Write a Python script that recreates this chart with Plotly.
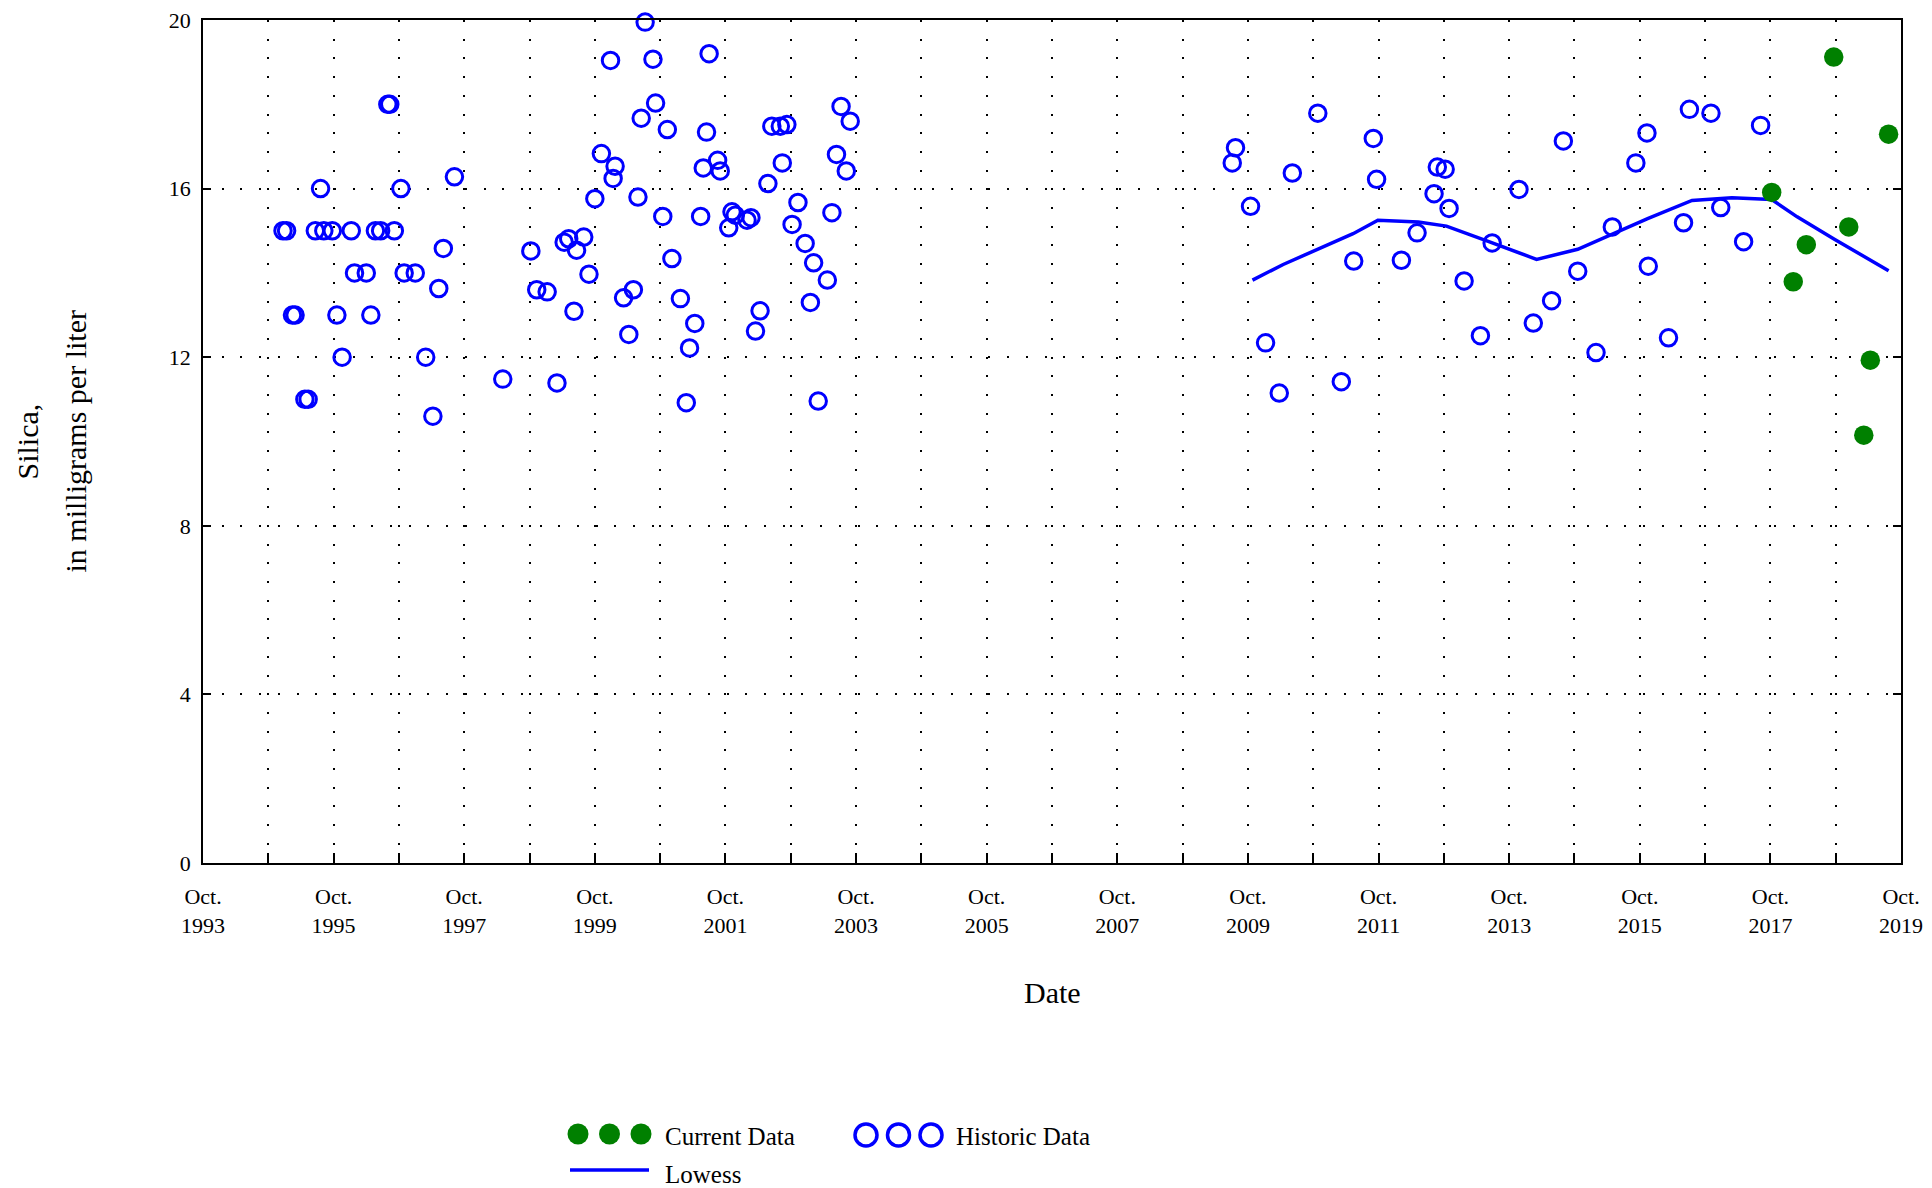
import plotly.graph_objects as go

# ---------------- data (decimal years, mg/L) ----------------
hist_dates = [
    1994.975, 1995.03, 1995.12, 1995.16, 1995.31, 1995.36, 1995.47, 1995.55, 1995.60, 1995.73,
    1995.80, 1995.88, 1996.02, 1996.07, 1996.25, 1996.32, 1996.39, 1996.47, 1996.58, 1996.61,
    1996.68, 1996.78, 1996.83, 1997.00, 1997.16, 1997.27, 1997.36, 1997.43, 1997.60,
    1998.34, 1998.77, 1998.86, 1999.02, 1999.17, 1999.28, 1999.35, 1999.43, 1999.47, 1999.58,
    1999.66, 1999.75, 1999.85, 1999.99, 2000.03, 2000.06, 2000.19, 2000.27, 2000.34, 2000.41,
    2000.46, 2000.52, 2000.64, 2000.68, 2000.79, 2000.86, 2000.93, 2001.06, 2001.15, 2001.20,
    2001.28, 2001.37, 2001.41, 2001.46, 2001.50, 2001.63, 2001.67, 2001.80, 2001.85, 2001.90,
    2002.08, 2002.14, 2002.21, 2002.28, 2002.40, 2002.46, 2002.59, 2002.62, 2002.69, 2002.77,
    2002.86, 2002.97, 2003.05, 2003.10, 2003.17, 2003.31, 2003.38, 2003.45, 2003.52, 2003.60,
    2003.66,
    2009.51, 2009.56, 2009.79, 2010.02, 2010.23, 2010.43, 2010.82, 2011.18, 2011.37, 2011.67,
    2011.72, 2012.10, 2012.34, 2012.60, 2012.65, 2012.77, 2012.83, 2013.06, 2013.31, 2013.49,
    2013.90, 2014.12, 2014.40, 2014.58, 2014.80, 2015.08, 2015.33, 2015.69, 2015.86, 2015.88,
    2016.19, 2016.42, 2016.51, 2016.84, 2016.99, 2017.34, 2017.60,
]
hist_values = [
    15.0, 15.0, 13.0, 13.0, 11.0, 11.0, 15.0, 16.0, 15.0, 15.0,
    13.0, 12.0, 15.0, 14.0, 14.0, 13.0, 15.0, 15.0, 18.0, 18.0,
    15.0, 16.0, 14.0, 14.0, 12.0, 10.6, 13.63, 14.58, 16.28,
    11.48, 14.52, 13.6, 13.55, 11.39, 14.73, 14.81, 13.09, 14.54, 14.85,
    13.97, 15.76, 16.83, 19.04, 16.24, 16.53, 13.41, 12.54, 13.6, 15.8,
    17.67, 19.95, 19.07, 18.03, 15.34, 17.4, 14.34, 13.39, 10.92, 12.22,
    12.8, 15.34, 16.49, 17.34, 19.2, 16.67, 16.42, 15.07, 15.45, 15.37,
    15.25, 15.31, 12.62, 13.1, 16.12, 17.48, 17.48, 16.61, 17.52, 15.15,
    15.67, 14.7, 13.3, 14.24, 10.96, 13.83, 15.43, 16.81, 17.95, 16.42,
    17.6,
    16.61, 16.97, 15.58, 12.34, 11.15, 16.37, 17.79, 11.42, 14.28, 17.19,
    16.22, 14.3, 14.95, 15.88, 16.51, 16.46, 15.53, 13.81, 12.51, 14.71,
    15.98, 12.81, 13.34, 17.13, 14.04, 12.11, 15.09, 16.61, 17.32, 14.16,
    12.46, 15.19, 17.88, 17.79, 15.55, 14.74, 17.5,
]
cur_dates = [2017.77, 2018.10, 2018.30, 2018.72, 2018.95, 2019.18, 2019.28, 2019.56]
cur_values = [15.91, 13.79, 14.67, 19.12, 15.09, 10.15, 11.93, 17.29]

lowess_dates = [2009.82, 2010.29, 2011.36, 2011.74, 2012.36, 2012.79, 2013.44, 2014.17, 2014.80,
                2015.23, 2015.87, 2016.55, 2017.16, 2017.77, 2018.16, 2018.73, 2019.16, 2019.56]
lowess_values = [13.83, 14.2, 14.93, 15.25, 15.21, 15.11, 14.74, 14.32, 14.56,
                 14.85, 15.29, 15.72, 15.78, 15.74, 15.33, 14.8, 14.42, 14.05]

year_ticks = [1993.75 + k for k in range(27)]
year_labels = [("Oct.<br>%d" % (1993 + k)) if k % 2 == 0 else "" for k in range(27)]
y_ticks = [0, 4, 8, 12, 16, 20]

# ---------------- layout geometry ----------------
W, H = 1932, 1188
L, R, T, B = 203, 31, 20, 325
PW, PH = W - L - R, H - T - B
FONT = "Liberation Serif"
BLUE = "#0000FF"
GREEN = "#008000"


def px(x):
    return (x - L) / PW


def py(y):
    return (H - B - y) / PH


fig = go.Figure()
fig.add_trace(go.Scatter(
    x=hist_dates, y=hist_values, mode="markers", name="Historic Data",
    marker=dict(symbol="circle-open", size=16.5, color=BLUE, line=dict(width=3, color=BLUE)),
    showlegend=False, cliponaxis=False))
fig.add_trace(go.Scatter(
    x=lowess_dates, y=lowess_values, mode="lines", name="Lowess",
    line=dict(color=BLUE, width=3.5), showlegend=False))
fig.add_trace(go.Scatter(
    x=cur_dates, y=cur_values, mode="markers", name="Current Data",
    marker=dict(symbol="circle", size=19.5, color=GREEN, line=dict(width=0)),
    showlegend=False, cliponaxis=False))

grid_dash = "2px,16.7px"
fig.update_xaxes(
    range=[1993.75, 2019.75], tickmode="array", tickvals=year_ticks, ticktext=year_labels,
    showgrid=True, gridcolor="black", gridwidth=1.5, griddash=grid_dash,
    ticks="inside", ticklen=10, tickwidth=1.5, tickcolor="black",
    showline=True, linecolor="black", linewidth=1.8, mirror=True,
    tickfont=dict(family=FONT, size=22, color="black"), ticklabelstandoff=13,
    zeroline=False)
fig.update_yaxes(
    range=[0, 20], tickmode="array", tickvals=y_ticks,
    showgrid=True, gridcolor="black", gridwidth=1.5, griddash=grid_dash,
    ticks="inside", ticklen=8, tickwidth=1.5, tickcolor="black",
    showline=True, linecolor="black", linewidth=1.8, mirror="ticks",
    tickfont=dict(family=FONT, size=22, color="black"), ticklabelstandoff=6,
    zeroline=False)

annotations = [
    dict(text="Silica,", xref="paper", yref="paper", x=px(27), y=0.5, xanchor="center",
         yanchor="middle", textangle=-90, showarrow=False,
         font=dict(family=FONT, size=30, color="black")),
    dict(text="in milligrams per liter", xref="paper", yref="paper", x=px(75), y=0.5,
         xanchor="center", yanchor="middle", textangle=-90, showarrow=False,
         font=dict(family=FONT, size=30, color="black")),
    dict(text="Date", xref="paper", yref="paper", x=0.5, y=py(992), xanchor="center",
         yanchor="middle", showarrow=False, font=dict(family=FONT, size=30, color="black")),
    dict(text="Current Data", xref="paper", yref="paper", x=px(663), y=py(1136), xanchor="left",
         yanchor="middle", showarrow=False, font=dict(family=FONT, size=25, color="black")),
    dict(text="Historic Data", xref="paper", yref="paper", x=px(954), y=py(1136), xanchor="left",
         yanchor="middle", showarrow=False, font=dict(family=FONT, size=25, color="black")),
    dict(text="Lowess", xref="paper", yref="paper", x=px(663), y=py(1174), xanchor="left",
         yanchor="middle", showarrow=False, font=dict(family=FONT, size=25, color="black")),
]

shapes = []
for cx in (578, 609.5, 641):
    shapes.append(dict(type="circle", xref="paper", yref="paper",
                       x0=px(cx - 10.5), x1=px(cx + 10.5), y0=py(1134 + 10.5), y1=py(1134 - 10.5),
                       fillcolor=GREEN, line=dict(width=0)))
for cx in (866, 898.5, 931):
    shapes.append(dict(type="circle", xref="paper", yref="paper",
                       x0=px(cx - 11), x1=px(cx + 11), y0=py(1135 + 11), y1=py(1135 - 11),
                       line=dict(color=BLUE, width=3.5)))
shapes.append(dict(type="line", xref="paper", yref="paper", x0=px(570), x1=px(649),
                   y0=py(1170), y1=py(1170), line=dict(color=BLUE, width=3.5)))

fig.update_layout(
    width=W, height=H, margin=dict(l=L, r=R, t=T, b=B, autoexpand=False),
    paper_bgcolor="white", plot_bgcolor="white", showlegend=False,
    annotations=annotations, shapes=shapes,
    font=dict(family=FONT, color="black"))

fig.write_html(
    "out.html",
    config={"displayModeBar": False},
    post_script="document.body.style.margin='0';document.body.style.overflow='hidden';")
